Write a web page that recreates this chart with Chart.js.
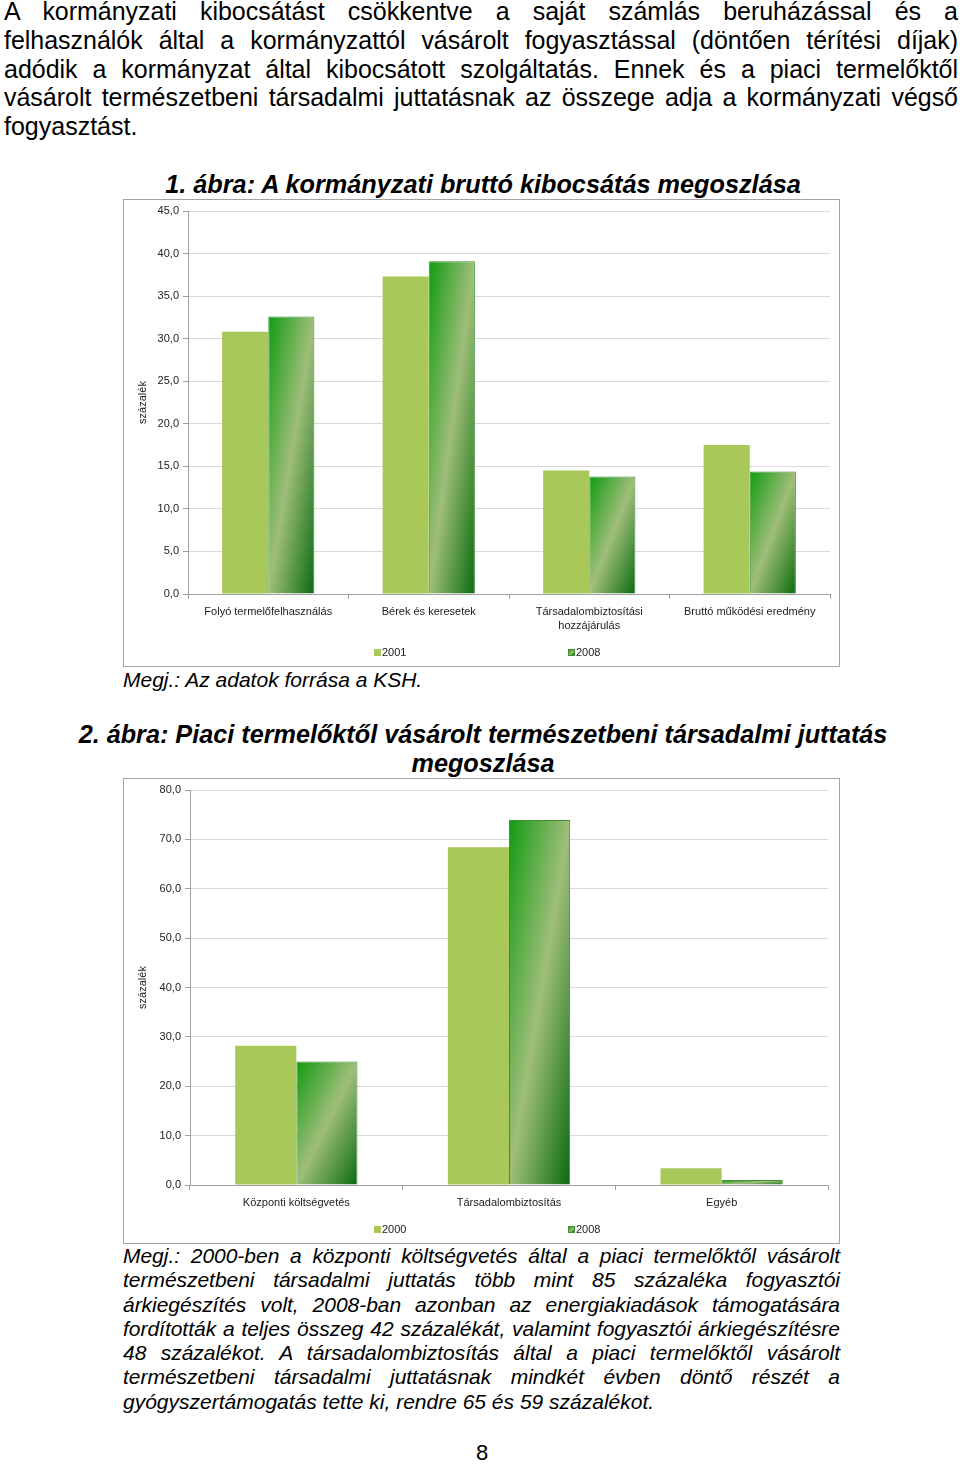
<!DOCTYPE html>
<html>
<head>
<meta charset="utf-8">
<script src="https://cdn.jsdelivr.net/npm/chart.js@4.4.1/dist/chart.umd.min.js"></script>
<style>
html,body{margin:0;padding:0;background:#fff;}
body{width:960px;height:1466px;position:relative;overflow:hidden;font-family:"Liberation Sans",Arial,sans-serif;color:#000;}
.para{position:absolute;}
.para div{text-align:justify;text-align-last:justify;white-space:normal;}
.para div.last{text-align:left;text-align-last:left;}
.title{position:absolute;left:3px;width:960px;text-align:center;font-weight:bold;font-style:italic;line-height:29px;white-space:nowrap;}
.title span{display:inline-block;}
.box{position:absolute;left:123px;width:717px;border:1px solid #a3a3a3;box-sizing:border-box;background:#fff;}
.box canvas{position:absolute;left:0;top:0;}
.lg{position:absolute;font-size:11px;line-height:13px;color:#222;white-space:nowrap;}
.sw{position:absolute;width:7px;height:7px;box-sizing:border-box;}
.sw1{background:#a8c85a;}
.sw2{background:linear-gradient(135deg,#109a10,#9fbe7a 55%,#0a6a10);border:1px solid #3f8f35;}
.note{position:absolute;font-style:italic;font-size:21px;line-height:24px;white-space:nowrap;}
.pg{position:absolute;left:0;width:964px;text-align:center;font-size:22px;line-height:26px;}
</style>
</head>
<body>
<div class="para" id="p1" style="left:4px;top:-3px;width:954px;font-size:25px;line-height:28.8px;"></div>

<div class="title" id="t1" style="top:170px;font-size:24px;"><span>1. ábra: A kormányzati bruttó kibocsátás megoszlása</span></div>

<div class="box" style="top:199px;height:468px;">
  <canvas id="c1" width="715" height="466"></canvas>
  <div class="sw sw1" style="left:250px;top:449px;"></div>
  <div class="lg" style="left:258px;top:446px;">2001</div>
  <div class="sw sw2" style="left:444px;top:449px;"></div>
  <div class="lg" style="left:452px;top:446px;">2008</div>
</div>

<div class="note" style="left:123px;top:668px;">Megj.: Az adatok forrása a KSH.</div>

<div class="title" id="t2a" style="top:720px;font-size:24px;"><span>2. ábra: Piaci termelőktől vásárolt természetbeni társadalmi juttatás</span></div>
<div class="title" id="t2b" style="top:749px;font-size:24px;"><span>megoszlása</span></div>

<div class="box" style="top:778px;height:466px;">
  <canvas id="c2" width="715" height="464"></canvas>
  <div class="sw sw1" style="left:250px;top:447px;"></div>
  <div class="lg" style="left:258px;top:444px;">2000</div>
  <div class="sw sw2" style="left:444px;top:447px;"></div>
  <div class="lg" style="left:452px;top:444px;">2008</div>
</div>

<div class="para" id="p2" style="left:123px;top:1244px;width:717px;font-size:21px;line-height:24.3px;font-style:italic;"></div>

<div class="pg" style="top:1440px;">8</div>

<script>
// ---------- DATA ----------
const cats1 = ['Folyó termelőfelhasználás', 'Bérek és keresetek', ['Társadalombiztosítási', 'hozzájárulás'], 'Bruttó működési eredmény'];
const series1Name = ['2001', '2008'];
const vals1_2001 = [30.8, 37.3, 14.5, 17.5];
const vals1_2008 = [32.6, 39.1, 13.8, 14.4];
const yMax1 = 45, yStep1 = 5;

const cats2 = ['Központi költségvetés', 'Társadalombiztosítás', 'Egyéb'];
const series2Name = ['2000', '2008'];
const vals2_2000 = [28.2, 68.4, 3.4];
const vals2_2008 = [25.0, 73.9, 1.0];
const yMax2 = 80, yStep2 = 10;

const yTitle = 'százalék';

const para1Lines = [
  'A kormányzati kibocsátást csökkentve a saját számlás beruházással és a',
  'felhasználók által a kormányzattól vásárolt fogyasztással (döntően térítési díjak)',
  'adódik a kormányzat által kibocsátott szolgáltatás. Ennek és a piaci termelőktől',
  'vásárolt természetbeni társadalmi juttatásnak az összege adja a kormányzati végső',
  'fogyasztást.'
];
const para2Lines = [
  'Megj.: 2000-ben a központi költségvetés által a piaci termelőktől vásárolt',
  'természetbeni társadalmi juttatás több mint 85 százaléka fogyasztói',
  'árkiegészítés volt, 2008-ban azonban az energiakiadások támogatására',
  'fordították a teljes összeg 42 százalékát, valamint fogyasztói árkiegészítésre',
  '48 százalékot. A társadalombiztosítás által a piaci termelőktől vásárolt',
  'természetbeni társadalmi juttatásnak mindkét évben döntő részét a',
  'gyógyszertámogatás tette ki, rendre 65 és 59 százalékot.'
];

// ---------- TEXT LAYOUT ----------
function buildPara(id, lines) {
  const el = document.getElementById(id);
  const W = parseFloat(el.style.width);
  lines.forEach((t, i) => {
    const d = document.createElement('div');
    if (i === lines.length - 1) d.className = 'last';
    const m = document.createElement('span');
    m.style.whiteSpace = 'nowrap';
    m.textContent = t;
    d.appendChild(m);
    el.appendChild(d);
    const nat = m.getBoundingClientRect().width;
    if (nat > W - 2) {
      d.style.letterSpacing = ((W - 2 - nat) / t.length) + 'px';
    }
    d.textContent = t;
  });
}
buildPara('p1', para1Lines);
buildPara('p2', para2Lines);

function fitTitle(ids, target) {
  const first = document.getElementById(ids[0]);
  const span = first.querySelector('span');
  const fs = parseFloat(first.style.fontSize);
  const w = span.getBoundingClientRect().width;
  const nfs = fs * target / w;
  ids.forEach(id => document.getElementById(id).style.fontSize = nfs + 'px');
}
fitTitle(['t1'], 636);
fitTitle(['t2a', 't2b'], 809);

// ---------- CHARTS ----------
Chart.defaults.font.family = "'Liberation Sans', Arial, sans-serif";
Chart.defaults.font.size = 11;
Chart.defaults.color = '#222';

const CAT_PCT = 0.575;
const C2001 = '#a8c85a';

function gradFill(ctx) {
  const chart = ctx.chart;
  const xs = chart.scales.x, ys = chart.scales.y;
  if (!chart.chartArea || !xs || !ys || ctx.type !== 'data') return '#3aa02a';
  const v = ctx.raw;
  const n = chart.data.labels.length;
  const catW = (xs.right - xs.left) / n;
  const bw = catW * CAT_PCT / 2;
  const x0 = xs.getPixelForValue(ctx.dataIndex);
  const y0 = ys.getPixelForValue(v), y1 = ys.getPixelForValue(0);
  const w = bw, h = Math.max(y1 - y0, 1);
  const t = 2 * w * h / (w * w + h * h);
  const g = chart.ctx.createLinearGradient(x0, y0, x0 + h * t, y0 + w * t);
  g.addColorStop(0, '#119b11');
  g.addColorStop(0.5, '#9fbe7a');
  g.addColorStop(1, '#0a6a10');
  return g;
}

function fmt(v) { return Number(v).toFixed(1).replace('.', ','); }

function makeChart(id, labels, names, a, b, yMax, yStep, area) {
  const canvas = document.getElementById(id);
  return new Chart(canvas, {
    type: 'bar',
    data: {
      labels: labels,
      datasets: [
        { label: names[0], data: a, backgroundColor: C2001, borderWidth: 0,
          categoryPercentage: CAT_PCT, barPercentage: 1 },
        { label: names[1], data: b, backgroundColor: gradFill, borderColor: '#3f8f35', borderWidth: 1,
          borderSkipped: 'bottom', categoryPercentage: CAT_PCT, barPercentage: 1 }
      ]
    },
    options: {
      responsive: false,
      animation: false,
      events: [],
      layout: { padding: { left: 0, top: area.top, right: area.right, bottom: 0 } },
      plugins: { legend: { display: false }, tooltip: { enabled: false } },
      scales: {
        x: {
          offset: true,
          grid: { offset: true, drawOnChartArea: false, drawTicks: true, tickLength: 5, color: '#a0a0a0' },
          border: { color: '#a0a0a0', width: 1 },
          ticks: { padding: 6, maxRotation: 0, minRotation: 0, autoSkip: false, color: '#222',
                   font: { size: 11, lineHeight: 1.25 } },
          afterFit: s => { s.height = area.xh; }
        },
        y: {
          min: 0, max: yMax,
          ticks: { stepSize: yStep, padding: 4, color: '#222', callback: v => fmt(v) },
          grid: { color: '#d9d9d9', tickColor: '#a0a0a0', tickLength: 5, lineWidth: 1 },
          border: { color: '#a0a0a0', width: 1 },
          title: { display: true, text: yTitle, color: '#222', font: { size: 11 }, padding: { top: 12, bottom: 0 } },
          afterFit: s => { s.width = area.yw; }
        }
      }
    }
  });
}

makeChart('c1', cats1, series1Name, vals1_2001, vals1_2008, yMax1, yStep1, { top: 11, right: 9, xh: 72, yw: 64 });
makeChart('c2', cats2, series2Name, vals2_2000, vals2_2008, yMax2, yStep2, { top: 11, right: 11, xh: 58, yw: 66 });
</script>
</body>
</html>
